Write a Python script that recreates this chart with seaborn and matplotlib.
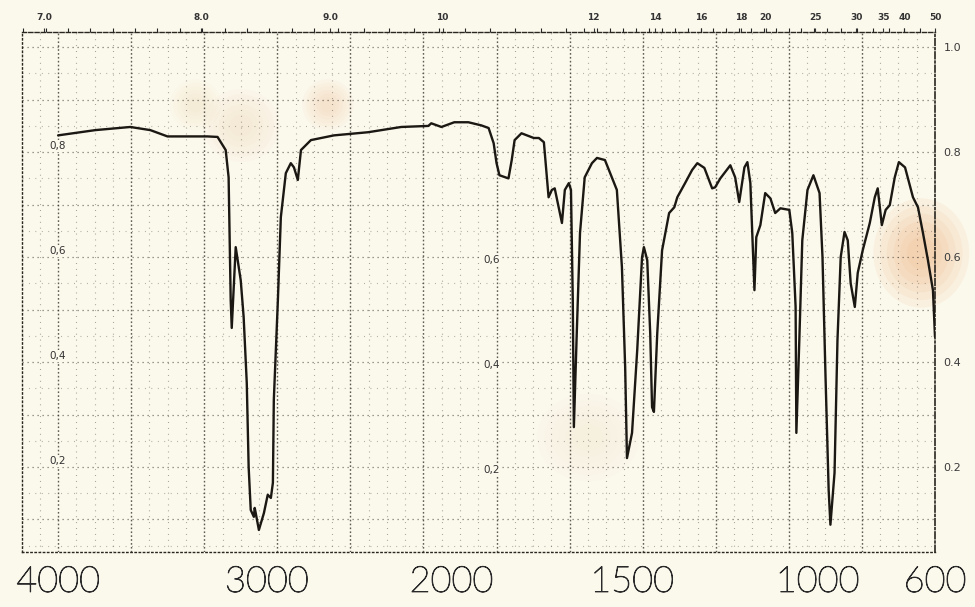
import numpy as np
import pandas as pd
import matplotlib
matplotlib.use("Agg")
import matplotlib.pyplot as plt
import matplotlib.patheffects as pe
import seaborn as sns
from matplotlib.patches import Ellipse

# Infrared spectrum trace: wavenumber (cm-1) and transmittance
wavenumber = [4000, 3822, 3654, 3558, 3476, 3365, 3284, 3236, 3197, 3183,
              3173, 3168, 3149, 3125, 3111, 3096, 3087, 3077, 3062, 3058,
              3053, 3038, 3014, 2995, 2978, 2967, 2962, 2940, 2924, 2897,
              2870, 2853, 2832, 2815, 2761, 2636, 2451, 2272, 2125, 2109,
              2054, 1992, 1953, 1917, 1897, 1883, 1875, 1867, 1842, 1833,
              1825, 1806, 1772, 1758, 1744, 1731, 1722, 1714, 1694, 1686,
              1675, 1669, 1664, 1661, 1653, 1644, 1631, 1611, 1597, 1575,
              1556, 1542, 1528, 1519, 1514, 1500, 1486, 1473, 1468, 1459,
              1451, 1446, 1441, 1432, 1419, 1400, 1386, 1378, 1357, 1338,
              1324, 1305, 1284, 1276, 1262, 1235, 1222, 1211, 1197, 1189,
              1181, 1170, 1165, 1154, 1141, 1127, 1114, 1100, 1076, 1068,
              1059, 1057, 1049, 1041, 1027, 1011, 993, 983, 973, 962,
              956, 942, 932, 921, 908, 897, 887, 873, 863, 846,
              822, 805, 795, 781, 768, 754, 737, 723, 702, 675,
              658, 641, 624, 607, 600]
transmittance = [0.832, 0.842, 0.848, 0.842, 0.830, 0.830, 0.830, 0.829, 0.804, 0.752,
                 0.518, 0.465, 0.619, 0.556, 0.486, 0.360, 0.200, 0.118, 0.105, 0.122,
                 0.112, 0.080, 0.112, 0.147, 0.141, 0.170, 0.328, 0.518, 0.676, 0.760,
                 0.779, 0.771, 0.747, 0.804, 0.823, 0.832, 0.838, 0.848, 0.850, 0.855,
                 0.848, 0.857, 0.857, 0.851, 0.846, 0.817, 0.779, 0.756, 0.750, 0.785,
                 0.823, 0.836, 0.827, 0.827, 0.819, 0.714, 0.728, 0.731, 0.665, 0.728,
                 0.741, 0.728, 0.518, 0.276, 0.455, 0.646, 0.752, 0.779, 0.789, 0.785,
                 0.752, 0.728, 0.581, 0.390, 0.217, 0.265, 0.423, 0.600, 0.619, 0.594,
                 0.455, 0.314, 0.305, 0.455, 0.613, 0.684, 0.695, 0.714, 0.741, 0.766,
                 0.779, 0.770, 0.731, 0.733, 0.750, 0.775, 0.752, 0.705, 0.771, 0.781,
                 0.741, 0.537, 0.638, 0.661, 0.722, 0.712, 0.684, 0.693, 0.690, 0.646,
                 0.505, 0.265, 0.442, 0.632, 0.728, 0.756, 0.722, 0.600, 0.379, 0.156,
                 0.090, 0.189, 0.442, 0.600, 0.648, 0.632, 0.550, 0.505, 0.570, 0.613,
                 0.665, 0.714, 0.731, 0.661, 0.690, 0.699, 0.752, 0.781, 0.771, 0.714,
                 0.695, 0.646, 0.594, 0.537, 0.448]

bottom_ticks = [4000, 3000, 2000, 1500, 1000, 600]
right_ticks = [1.0, 0.8, 0.6, 0.4, 0.2]
right_labels = ["1.0", "0.8", "0.6", "0.4", "0.2"]
inner_ticks = [0.8, 0.6, 0.4, 0.2]
middle_ticks = [0.6, 0.4, 0.2]
top_ticks = [4087, 3471, 2967, 2527, 1936, 1694, 1514, 1359, 1262, 1068, 908, 802, 720, 600]
top_labels = ["7.0", "8.0", "9.0", "10", "12", "14", "16", "18", "20", "25", "30", "35", "40", "50"]

# chart-paper abscissa: piecewise linear in wavenumber, 4000 -> 0 and 600 -> 1
scale_wn = np.array([600, 1000, 1500, 2000, 3000, 4000, 4400], dtype=float)
scale_pos = np.array([1.0, 0.866, 0.6545, 0.4485, 0.238, 0.0, -0.0952])


def paper_pos(w):
    return np.interp(w, scale_wn, scale_pos)


def pos_to_wn(p):
    return np.interp(p, scale_pos[::-1], scale_wn[::-1])


# increasing transform for the axis scale
def forward(w):
    return -paper_pos(w)


def inverse(v):
    return pos_to_wn(-np.asarray(v))


sns.set_theme(style="white")
paper = "#fbf8ec"
ink = "#2a2620"
plt.rcParams["font.family"] = ["DejaVu Sans"]

fig = plt.figure(figsize=(9.75, 6.07), dpi=100, facecolor=paper)
ax = fig.add_axes([22 / 975, 1 - 552 / 607, 913 / 975, 520 / 607])
ax.set_facecolor(paper)
ax.set_xscale("function", functions=(forward, inverse))

df = pd.DataFrame({"wavenumber": wavenumber, "transmittance": transmittance})
sns.lineplot(data=df, x="wavenumber", y="transmittance", sort=False, estimator=None,
             color="#1b1712", lw=1.7, ax=ax, zorder=3)
ax.set_xlim(4173, 600)
ax.set_ylim(0.038, 1.029)

# paper stains
stains = [(0.985, 0.575, 0.075, 0.15, "#efb27c", 0.55),
          (0.335, 0.86, 0.04, 0.07, "#f1c49a", 0.35),
          (0.24, 0.82, 0.06, 0.10, "#f3d2ad", 0.30),
          (0.19, 0.86, 0.04, 0.07, "#f3d2ad", 0.25),
          (0.62, 0.22, 0.08, 0.12, "#f6e2c4", 0.25)]
for sx, sy, sw, sh, sc, sa in stains:
    for k in range(6):
        f = 1 - k * 0.14
        ax.add_patch(Ellipse((sx, sy), sw * f * 1.4, sh * f * 1.4, transform=ax.transAxes,
                             facecolor=sc, edgecolor="none", alpha=sa / 5, zorder=0.2,
                             clip_on=False))

# chart-paper grid
for k in range(-1, 13):
    for j in range(4):
        p = (k + j / 4) / 12
        if p < -0.041 or p > 0.999:
            continue
        w = pos_to_wn(p)
        if j == 0:
            ax.axvline(w, color=ink, lw=1.0, ls=(0, (1.2, 1.6)), alpha=0.75, zorder=0.5)
        else:
            ax.axvline(w, color=ink, lw=0.8, ls=(0, (0.8, 4.5)), alpha=0.45, zorder=0.5)
for t in np.arange(0.05, 1.01, 0.05):
    major = abs(round(t * 10) - t * 10) < 1e-6
    ax.axhline(t, color=ink, lw=0.9 if major else 0.8,
               ls=(0, (1.0, 3.0)) if major else (0, (0.8, 5.0)),
               alpha=0.6 if major else 0.4, zorder=0.5)

# frame
for side in ["left", "bottom"]:
    ax.spines[side].set_linestyle((0, (1.0, 2.0)))
    ax.spines[side].set_color(ink)
    ax.spines[side].set_linewidth(1.0)
ax.spines["right"].set_linestyle((0, (4, 1.5, 1, 1.5)))
ax.spines["right"].set_color(ink)
ax.spines["right"].set_linewidth(1.2)
ax.spines["top"].set_color(ink)
ax.spines["top"].set_linewidth(1.0)
ax.spines["top"].set_linestyle((0, (3, 1.5)))

ax.set_xlabel("")
ax.set_ylabel("")
ax.set_xticks(bottom_ticks)
ax.set_xticklabels([str(v) for v in bottom_ticks], fontsize=26, color="#2a2a2a",
                   family=["Lato", "DejaVu Sans"], fontweight="light")
for lab in ax.get_xticklabels():
    lab.set_path_effects([pe.withStroke(linewidth=0.7, foreground="#2a2a2a")])
ax.tick_params(axis="x", length=0, pad=10)
ax.xaxis.set_minor_locator(matplotlib.ticker.NullLocator())

ax.yaxis.tick_right()
ax.set_yticks(right_ticks)
ax.set_yticklabels(right_labels, fontsize=8, color="#3a3a3a")
ax.tick_params(axis="y", length=0, pad=6)

# secondary scale printed along the top edge
top = ax.secondary_xaxis("top", functions=(lambda w: w, lambda w: w))
top.set_xticks(top_ticks)
top.set_xticklabels(top_labels, fontsize=6.5, fontweight="bold", color="#333")
top.tick_params(axis="x", length=3, width=0.8, pad=4, colors="#333", direction="out")
top.spines["top"].set_visible(False)
fine = [pos_to_wn(p) for p in np.arange(-0.04, 1.0, 1 / 48)]
top.set_xticks(fine, minor=True)
top.tick_params(axis="x", which="minor", length=3, width=0.8, direction="out")

# transmittance labels printed inside the grid
for t in inner_ticks:
    ax.text(4000, t + 0.012, f"{t:.1f}".replace(".", ","), fontsize=7.5, color="#333",
            ha="center", va="center", zorder=2,
            bbox=dict(boxstyle="square,pad=0.1", fc=paper, ec="none"))
for t in middle_ticks:
    ax.text(1889, t - 0.005, f"{t:.1f}".replace(".", ","), fontsize=7.5, color="#333",
            ha="center", va="center", zorder=2,
            bbox=dict(boxstyle="square,pad=0.1", fc=paper, ec="none"))

fig.savefig("out.png", dpi=100, facecolor=paper)
